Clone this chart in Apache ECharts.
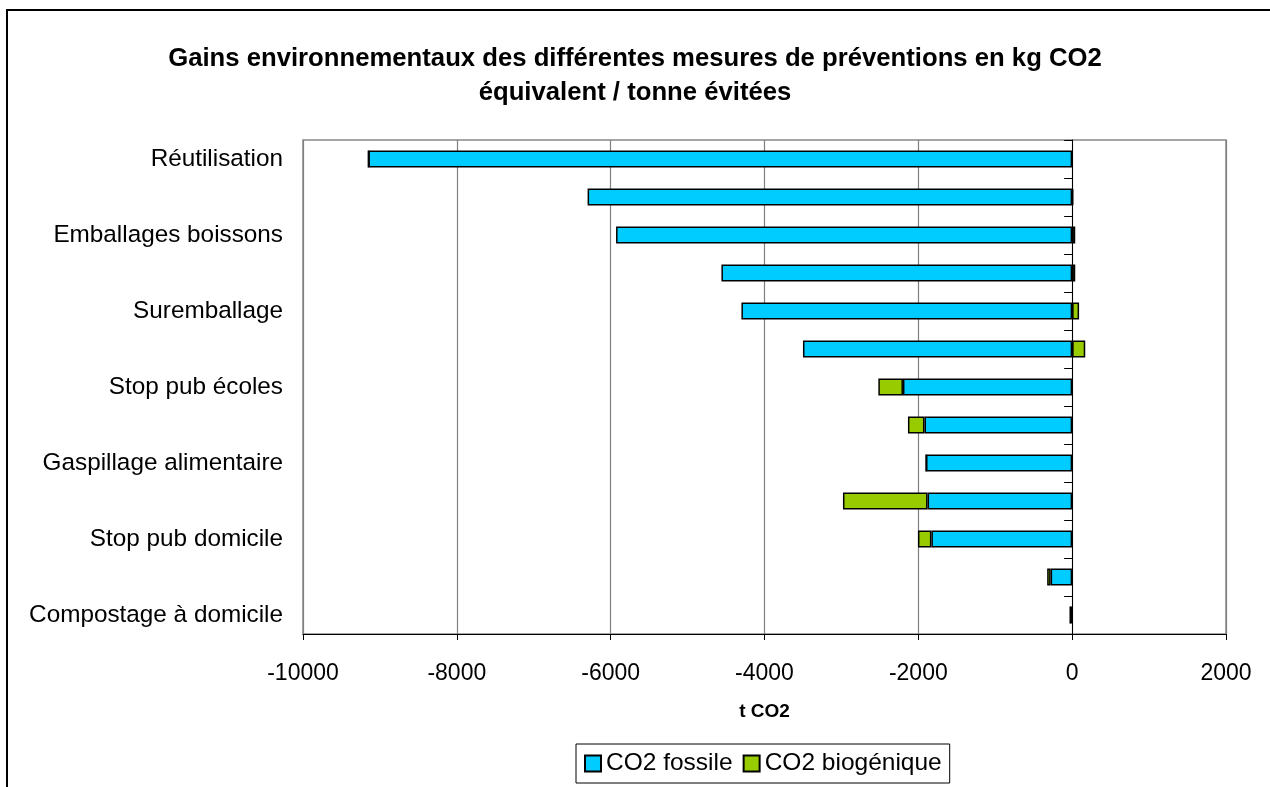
<!DOCTYPE html>
<html>
<head>
<meta charset="utf-8">
<script src="https://cdn.jsdelivr.net/npm/echarts@6/dist/echarts.min.js"></script>
<style>
html,body{margin:0;padding:0;background:#fff;}
#chart{width:1270px;height:787px;}
</style>
</head>
<body>
<div id="chart"></div>
<script>
var categories = [
  'Réutilisation', '', 'Emballages boissons', '', 'Suremballage', '',
  'Stop pub écoles', '', 'Gaspillage alimentaire', '', 'Stop pub domicile', '',
  'Compostage à domicile'
];
var co2Fossile = [-9150, -6300, -5930, -4560, -4300, -3500, -2200, -1920, -1900, -1880, -1830, -280, -25];
var co2Biogenique = [0, 15, 40, 40, 90, 170, -320, -215, 0, -1100, -175, -45, 0];
var xTicks = { min: -10000, max: 2000, interval: 2000 };

var FONT = '"Liberation Sans", Arial, sans-serif';
var chart = echarts.init(document.getElementById('chart'));
chart.setOption({
  backgroundColor: '#ffffff',
  animation: false,
  title: {
    text: 'Gains environnementaux des différentes mesures de préventions en kg CO2\néquivalent / tonne évitées',
    left: 'center',
    top: 37,
    textStyle: { fontFamily: FONT, fontSize: 25.7, fontWeight: 'bold', color: '#000', lineHeight: 34, align: 'center' }
  },
  graphic: [{
    type: 'rect',
    shape: { x: 7, y: 10, width: 1300, height: 820 },
    style: { fill: 'none', stroke: '#000', lineWidth: 2 },
    silent: true
  }],
  legend: {
    data: ['CO2 fossile', 'CO2 biogénique'],
    left: 576,
    top: 744,
    padding: [7, 8],
    itemGap: 10,
    itemWidth: 16,
    itemHeight: 16,
    borderColor: '#000',
    borderWidth: 1,
    icon: 'rect',
    textStyle: { fontFamily: FONT, fontSize: 24.5, color: '#000' }
  },
  grid: {
    left: 303, top: 140, width: 923, height: 494,
    show: true, borderColor: '#888', borderWidth: 1.5, containLabel: false
  },
  xAxis: {
    type: 'value',
    min: xTicks.min, max: xTicks.max, interval: xTicks.interval,
    name: 't CO2',
    nameLocation: 'middle',
    nameGap: 68,
    nameTextStyle: { fontFamily: FONT, fontSize: 19, fontWeight: 'bold', color: '#000' },
    axisLine: { show: true, lineStyle: { color: '#000', width: 1 } },
    axisTick: { show: true, length: 6, lineStyle: { color: '#000' } },
    axisLabel: {
      fontFamily: FONT, fontSize: 23, color: '#000', margin: 28,
      formatter: function (v) { return String(v); }
    },
    splitLine: { show: true, lineStyle: { color: '#808080', width: 1.2 } }
  },
  yAxis: [{
    type: 'category',
    data: categories,
    inverse: true,
    position: 'left',
    axisLine: { show: false, onZero: false },
    axisTick: { show: false },
    axisLabel: { fontFamily: FONT, fontSize: 24.3, color: '#000', margin: 20, interval: 0 },
    splitLine: { show: false }
  }, {
    type: 'category',
    data: categories,
    inverse: true,
    position: 'left',
    axisLine: { show: true, onZero: true, lineStyle: { color: '#000', width: 1 } },
    axisTick: { show: true, length: 8, lineStyle: { color: '#000' } },
    axisLabel: { show: false },
    splitLine: { show: false }
  }],
  series: [{
    name: 'CO2 fossile',
    type: 'bar',
    stack: 'total',
    yAxisIndex: 0,
    barWidth: 17,
    data: co2Fossile,
    itemStyle: { color: '#00CCFF', borderColor: '#000', borderWidth: 1.5 }
  }, {
    name: 'CO2 biogénique',
    type: 'bar',
    stack: 'total',
    yAxisIndex: 0,
    barWidth: 17,
    data: co2Biogenique,
    itemStyle: { color: '#99CC00', borderColor: '#000', borderWidth: 1.5 }
  }]
});
</script>
</body>
</html>
